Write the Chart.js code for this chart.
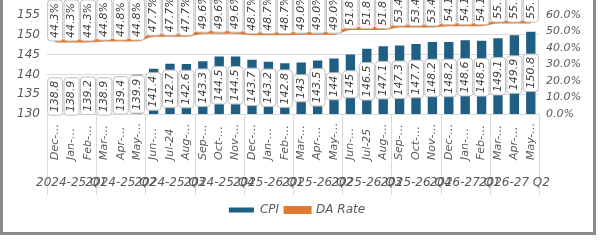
<!DOCTYPE html>
<html>
<head>
<meta charset="utf-8">
<script src="https://cdn.jsdelivr.net/npm/chart.js@4.4.1/dist/chart.umd.min.js"></script>
<style>
  html, body { margin: 0; padding: 0; background: #fff; }
  #box { position: relative; width: 600px; height: 240px; }
</style>
</head>
<body>
<div id="box"><canvas id="chart"></canvas></div>
<script>
'use strict';

// month ticks as they appear on the axis (Excel cut most of them short)
const monthTicks = [
  'Dec-…', 'Jan-…', 'Feb-…', 'Mar-…', 'Apr-…', 'May-…',
  'Jun-…', 'Jul-24', 'Aug-…', 'Sep-…', 'Oct-…', 'Nov-…',
  'Dec-…', 'Jan-…', 'Feb-…', 'Mar-…', 'Apr-…', 'May-…',
  'Jun-…', 'Jul-25', 'Aug-…', 'Sep-…', 'Oct-…', 'Nov-…',
  'Dec-…', 'Jan-…', 'Feb-…', 'Mar-…', 'Apr-…', 'May-…'
];
const quarterTicks = [
  '2024-25 Q1', '2024-25 Q2', '2024-25 Q3', '2024-25 Q4', '2025-26 Q1',
  '2025-26 Q2', '2025-26 Q3', '2025-26 Q4', '2026-27 Q1', '2026-27 Q2'
];
const cpi = [
  138.8, 138.9, 139.2, 138.9, 139.4, 139.9,
  141.4, 142.7, 142.6, 143.3, 144.5, 144.5,
  143.7, 143.2, 142.8, 143, 143.5, 144,
  145, 146.5, 147.1, 147.3, 147.7, 148.2,
  148.2, 148.6, 148.5, 149.1, 149.9, 150.8
];
const daRate = [
  44.3, 44.3, 44.3, 44.8, 44.8, 44.8,
  47.7, 47.7, 47.7, 49.6, 49.6, 49.6,
  48.7, 48.7, 48.7, 49.0, 49.0, 49.0,
  51.8, 51.8, 51.8, 53.4, 53.4, 53.4,
  54.1, 54.1, 54.1, 55.7, 55.7, 55.7
];

const FONT = "'DejaVu Sans', sans-serif";
const TEXT = '#595959';
const BLUE = '#1f5f83';
const ORANGE = '#e07a33';

function roundRect(ctx, x, y, w, h, r) {
  ctx.beginPath();
  ctx.moveTo(x + r, y);
  ctx.arcTo(x + w, y, x + w, y + h, r);
  ctx.arcTo(x + w, y + h, x, y + h, r);
  ctx.arcTo(x, y + h, x, y, r);
  ctx.arcTo(x, y, x + w, y, r);
  ctx.closePath();
}

// boxed, rotated value labels like the Excel data callouts
const valueBoxes = {
  id: 'valueBoxes',
  afterDatasetsDraw(chart) {
    const ctx = chart.ctx;
    const base = chart.scales.y.getPixelForValue(130);
    ctx.save();
    ctx.font = 'italic 11px ' + FONT;
    [0, 1].forEach(di => {
      chart.getDatasetMeta(di).data.forEach((el, i) => {
        const p = el.getProps(['x', 'y'], true);
        const text = di === 0 ? String(cpi[i]) : daRate[i].toFixed(1) + '%';
        const h = ctx.measureText(text).width + 6, w = 15;
        const cy = di === 0 ? (p.y + base) / 2 : p.y - h / 2;
        roundRect(ctx, p.x - w / 2, cy - h / 2, w, h, 3);
        ctx.fillStyle = '#fff';
        ctx.fill();
        ctx.strokeStyle = '#bfbfbf';
        ctx.lineWidth = 1;
        ctx.stroke();
        ctx.save();
        ctx.translate(p.x, cy);
        ctx.rotate(-Math.PI / 2);
        ctx.fillStyle = '#404040';
        ctx.textAlign = 'center';
        ctx.textBaseline = 'middle';
        ctx.fillText(text, 0, 0);
        ctx.restore();
      });
    });
    ctx.restore();
  }
};

// two-level category axis + outer frame
const twoLevelAxis = {
  id: 'twoLevelAxis',
  afterDraw(chart) {
    const ctx = chart.ctx, x = chart.scales.x, area = chart.chartArea;
    const step = x.width / monthTicks.length;
    ctx.save();
    ctx.strokeStyle = '#d9d9d9';
    ctx.lineWidth = 1;
    for (let g = 0; g <= quarterTicks.length; g++) {
      const px = Math.round(x.left + g * 3 * step) + 0.5;
      ctx.beginPath();
      ctx.moveTo(px, area.bottom);
      ctx.lineTo(px, area.bottom + 81);
      ctx.stroke();
    }
    ctx.fillStyle = TEXT;
    ctx.font = 'italic 11px ' + FONT;
    ctx.textBaseline = 'middle';
    monthTicks.forEach((t, i) => {
      ctx.save();
      ctx.translate(x.getPixelForValue(i), area.bottom + 46);
      ctx.rotate(-Math.PI / 2);
      ctx.textAlign = 'left';
      ctx.fillText(t, 0, 0);
      ctx.restore();
    });
    ctx.font = 'italic 12px ' + FONT;
    ctx.textAlign = 'center';
    quarterTicks.forEach((t, g) => {
      ctx.fillText(t, x.getPixelForValue(g * 3 + 1), area.bottom + 69);
    });
    // frame round the whole chart
    ctx.fillStyle = '#8c8c8c';
    ctx.fillRect(0, 0, 3, 234);
    ctx.fillRect(0, 232, 596, 3);
    ctx.fillRect(593, 0, 3, 235);
    ctx.restore();
  }
};

new Chart(document.getElementById('chart'), {
  data: {
    labels: monthTicks,
    datasets: [{
      type: 'bar',
      label: 'CPI',
      data: cpi,
      yAxisID: 'y',
      backgroundColor: BLUE,
      borderWidth: 0,
      barPercentage: 0.57,
      categoryPercentage: 1
    }, {
      type: 'line',
      label: 'DA Rate',
      data: daRate,
      yAxisID: 'y1',
      borderColor: ORANGE,
      backgroundColor: ORANGE,
      borderWidth: 3,
      pointRadius: 0,
      cubicInterpolationMode: 'monotone'
    }]
  },
  options: {
    responsive: true,
    maintainAspectRatio: false,
    animation: false,
    layout: { padding: { left: 0, right: 6, top: 15, bottom: 14 } },
    plugins: {
      tooltip: { enabled: false },
      legend: {
        position: 'bottom',
        labels: {
          boxWidth: 25,
          boxHeight: 5,
          padding: 6,
          color: TEXT,
          font: { family: FONT, size: 12, style: 'italic' }
        }
      }
    },
    scales: {
      x: {
        offset: true,
        grid: { display: false },
        border: { color: '#d9d9d9' },
        ticks: { display: false },
        afterFit(s) { s.height = 84; }
      },
      y: {
        position: 'left',
        min: 130,
        max: 155,
        grid: { color: '#d9d9d9', drawTicks: false },
        border: { display: false },
        ticks: {
          stepSize: 5,
          padding: 7,
          color: TEXT,
          font: { family: FONT, size: 12, style: 'italic' }
        },
        afterFit(s) { s.width = 47; }
      },
      y1: {
        position: 'right',
        min: 0,
        max: 60,
        grid: { display: false, drawTicks: false },
        border: { display: false },
        ticks: {
          stepSize: 10,
          padding: 7,
          color: TEXT,
          font: { family: FONT, size: 11, style: 'italic' },
          callback: v => v.toFixed(1) + '%'
        },
        afterFit(s) { s.width = 55; }
      }
    }
  },
  plugins: [valueBoxes, twoLevelAxis]
});
</script>
</body>
</html>
